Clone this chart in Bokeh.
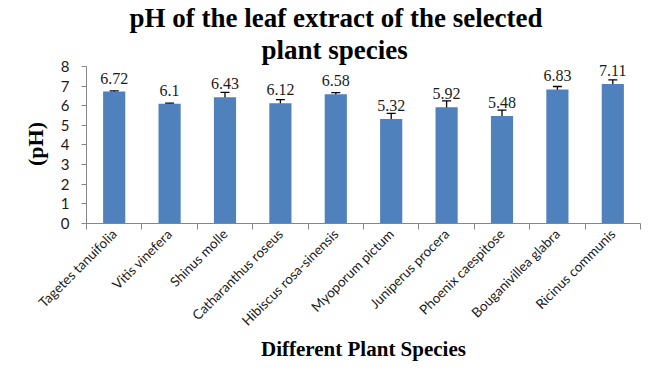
import numpy as np
from bokeh.plotting import figure
from bokeh.models import (ColumnDataSource, Range1d, FixedTicker, Title,
                          Whisker, TeeHead, LabelSet)
from bokeh.embed import file_html
from bokeh.resources import INLINE

species = ["Tagetes tanuifolia", "Vitis vinefera", "Shinus molle",
           "Catharanthus roseus", "Hibiscus rosa-sinensis", "Myoporum pictum",
           "Juniperus procera", "Phoenix caespitose", "Bouganivillea glabra",
           "Ricinus communis"]
ph = [6.72, 6.1, 6.43, 6.12, 6.58, 5.32, 5.92, 5.48, 6.83, 7.11]
ph_err = [0.04, 0.03, 0.25, 0.19, 0.09, 0.29, 0.33, 0.30, 0.15, 0.21]
ph_labels = ["6.72", "6.1", "6.43", "6.12", "6.58", "5.32", "5.92", "5.48", "6.83", "7.11"]
y_ticks = [0, 1, 2, 3, 4, 5, 6, 7, 8]
title_lines = ["pH of the leaf extract of the selected", "plant species"]
x_title = "Different Plant Species"
y_title = "(pH)"

BAR = "#4F81BD"
AXIS = "#868686"
TXT = "#1a1a1a"

n = len(species)
# category slots: species i occupies [i, i+1] on the x scale, bar at its centre
centres = [i + 0.5 for i in range(n)]

src = ColumnDataSource(dict(
    x=centres, top=ph, label=ph_labels,
    upper=[v + e for v, e in zip(ph, ph_err)],
    lower=[v - e for v, e in zip(ph, ph_err)],
))

p = figure(width=664, height=364, x_range=Range1d(0, n),
           y_range=Range1d(0, 8.1),
           toolbar_location=None, output_backend="svg",
           min_border_left=86, min_border_right=24,
           min_border_top=0, min_border_bottom=0)
p.outline_line_color = None
p.grid.visible = False
p.background_fill_color = "white"
p.border_fill_color = "white"

p.vbar(x="x", top="top", width=0.4, source=src, fill_color=BAR, line_color=None)

p.add_layout(Whisker(base="x", upper="upper", lower="lower", source=src,
                     dimension="height", line_color="black", line_width=1.3,
                     upper_head=TeeHead(size=9, line_color="black", line_width=1.3),
                     lower_head=TeeHead(size=9, line_color="black", line_width=1.3)))

p.add_layout(LabelSet(x="x", y="top", text="label", source=src,
                      text_align="center", text_baseline="alphabetic",
                      y_offset=8, text_font="Lato", text_font_size="16px",
                      text_color=TXT))

# y axis
ya = p.yaxis[0]
ya.ticker = FixedTicker(ticks=y_ticks)
ya.bounds = (0, 8)
ya.axis_line_color = AXIS
ya.major_tick_line_color = AXIS
ya.major_tick_out = 5
ya.major_tick_in = 0
ya.minor_tick_line_color = None
ya.major_label_standoff = 12
ya.major_label_text_font = "Lato"
ya.major_label_text_font_size = "15px"
ya.major_label_text_color = TXT
ya.axis_label = y_title
ya.axis_label_text_font = "Liberation Serif"
ya.axis_label_text_font_style = "bold"
ya.axis_label_text_font_size = "22px"
ya.axis_label_text_color = "black"
ya.axis_label_standoff = 10

# x axis: category labels at slot centres, ticks at slot boundaries
xa = p.xaxis[0]
xa.ticker = FixedTicker(ticks=centres, minor_ticks=list(range(n + 1)))
xa.major_label_overrides = {c: s for c, s in zip(centres, species)}
xa.axis_line_color = AXIS
xa.major_tick_line_color = None
xa.major_tick_out = 0
xa.major_tick_in = 0
xa.minor_tick_line_color = AXIS
xa.minor_tick_out = 6
xa.minor_tick_in = 0
xa.major_label_orientation = np.pi / 4
xa.major_label_standoff = 2
xa.major_label_text_font = "Lato"
xa.major_label_text_font_size = "13.5px"
xa.major_label_text_color = TXT
xa.axis_label = x_title
xa.axis_label_text_font = "Liberation Serif"
xa.axis_label_text_font_style = "bold"
xa.axis_label_text_font_size = "21px"
xa.axis_label_text_color = "black"
xa.axis_label_standoff = 0

# two-line title (left-aligned with pixel offsets so it sits centred over the chart)
for line, off in reversed(list(zip(title_lines, [43, 175]))):
    p.add_layout(Title(text=line, align="left", offset=off, standoff=0,
                       text_font="Liberation Serif", text_font_style="bold",
                       text_font_size="27px", text_color="black"), "above")

open("out.html", "w").write(file_html(p, INLINE))
